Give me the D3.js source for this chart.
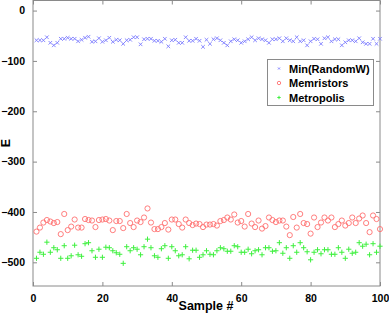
<!DOCTYPE html>
<html>
<head>
<meta charset="utf-8">
<script src="https://cdn.jsdelivr.net/npm/d3@7"></script>
<style>
  body { margin: 0; background: #fff; }
  svg { display: block; font-family: "Liberation Sans", Arial, sans-serif; }
</style>
</head>
<body>
<div id="chart"></div>
<script>
// Values, sample 1..100.
var minRandomW = [-59, -59, -59, -53, -64, -69, -64, -56, -56, -54,
    -56, -56, -61, -58, -54, -52, -62, -61, -55, -62,
    -59, -54, -62, -58, -59, -66, -59, -58, -53, -53,
    -67, -57, -56, -56, -60, -60, -62, -56, -71, -59,
    -58, -64, -64, -53, -60, -60, -56, -60, -72, -58,
    -66, -57, -55, -59, -64, -69, -61, -57, -59, -64,
    -61, -57, -53, -59, -55, -57, -59, -64, -57, -57,
    -55, -61, -55, -59, -61, -53, -61, -59, -69, -61,
    -56, -57, -66, -55, -53, -61, -57, -57, -69, -63,
    -59, -59, -61, -55, -63, -66, -66, -56, -66, -56];

var memristors = [-439, -431, -421, -416, -419, -422, -420, -444, -404, -436,
    -429, -415, -431, -431, -414, -416, -417, -430, -416, -415,
    -414, -417, -436, -418, -418, -432, -404, -422, -430, -417,
    -420, -411, -393, -421, -434, -434, -430, -422, -435, -415,
    -415, -424, -431, -415, -422, -426, -423, -424, -430, -425,
    -425, -424, -427, -418, -416, -411, -415, -405, -421, -418,
    -429, -404, -423, -430, -417, -433, -428, -411, -416, -420,
    -417, -417, -429, -446, -410, -431, -404, -422, -424, -443,
    -411, -430, -421, -411, -417, -411, -430, -424, -417, -427,
    -422, -411, -422, -413, -407, -422, -440, -407, -414, -434];

var metropolis = [-492, -480, -484, -460, -480, -471, -475, -492, -467, -492,
    -487, -466, -485, -488, -463, -461, -477, -490, -474, -490,
    -470, -471, -477, -481, -484, -502, -469, -477, -471, -474,
    -485, -469, -454, -471, -487, -490, -473, -467, -492, -469,
    -477, -487, -485, -469, -493, -476, -476, -490, -485, -477,
    -484, -485, -477, -471, -473, -478, -478, -467, -469, -480,
    -480, -474, -483, -477, -475, -485, -471, -471, -478, -477,
    -461, -482, -471, -492, -467, -480, -461, -471, -479, -495,
    -480, -475, -483, -475, -475, -484, -484, -471, -480, -492,
    -474, -482, -480, -461, -468, -464, -485, -463, -480, -468];

var seriesNames = ["Min(RandomW)", "Memristors", "Metropolis"];
var xTicks = [0, 20, 40, 60, 80, 100];
var yTicks = [0, -100, -200, -300, -400, -500];

var width = 389, height = 315;
var pLeft = 33, pRight = 380, pTop = 0.5, pBottom = 286;

var svg = d3.select("#chart").append("svg")
    .attr("width", width)
    .attr("height", height);

var x = d3.scaleLinear().domain([0, 100]).range([pLeft, pRight]);
var y = d3.scaleLinear().domain([-550, 20]).range([pBottom + 1.5, pTop]);

var axisColor = "#8a8a8a";

// box
svg.append("rect")
    .attr("x", pLeft).attr("y", pTop)
    .attr("width", pRight - pLeft).attr("height", pBottom - pTop)
    .attr("fill", "none").attr("stroke", axisColor);

// axes with inward ticks
function styleAxis(g) {
    g.select(".domain").remove();
    g.selectAll(".tick line").attr("stroke", axisColor);
    g.selectAll(".tick text")
        .attr("fill", "#000")
        .attr("font-weight", "bold")
        .attr("font-size", "10.5px")
        .attr("font-family", "Liberation Sans, Arial, sans-serif");
}

svg.append("g")
    .attr("transform", "translate(0," + pBottom + ")")
    .call(d3.axisBottom(x).tickValues(xTicks).tickSizeInner(-4).tickPadding(9))
    .call(styleAxis);
svg.append("g")
    .attr("transform", "translate(0," + pTop + ")")
    .call(d3.axisTop(x).tickValues(xTicks).tickSizeInner(-4).tickFormat(""))
    .call(styleAxis);
svg.append("g")
    .attr("transform", "translate(" + pLeft + ",0)")
    .call(d3.axisLeft(y).tickValues(yTicks).tickSizeInner(-4).tickPadding(8)
        .tickFormat(function(d) { return d < 0 ? "\u2212" + (-d) : d; }))
    .call(styleAxis);
svg.append("g")
    .attr("transform", "translate(" + pRight + ",0)")
    .call(d3.axisRight(y).tickValues(yTicks).tickSizeInner(-4).tickFormat(""))
    .call(styleAxis);

// markers
function markX(g, px, py, s) {
    g.append("path")
        .attr("d", "M" + (px - s) + "," + (py - s) + "L" + (px + s) + "," + (py + s) +
            "M" + (px - s) + "," + (py + s) + "L" + (px + s) + "," + (py - s))
        .attr("stroke", "#7b7bff").attr("stroke-width", 0.9).attr("fill", "none");
}
function markPlus(g, px, py, s) {
    g.append("path")
        .attr("d", "M" + (px - s) + "," + py + "L" + (px + s) + "," + py +
            "M" + px + "," + (py - s) + "L" + px + "," + (py + s))
        .attr("stroke", "#3ef03e").attr("stroke-width", 1).attr("fill", "none");
}

var gBlue = svg.append("g");
minRandomW.forEach(function(v, i) { markX(gBlue, x(i + 1), y(v), 1.8); });

svg.append("g").selectAll("circle")
    .data(memristors)
    .enter()
    .append("circle")
    .attr("cx", function(d, i) { return x(i + 1); })
    .attr("cy", function(d) { return y(d); })
    .attr("r", 2.6)
    .attr("fill", "none")
    .attr("stroke", "#ff7070")
    .attr("stroke-width", 0.9);

var gGreen = svg.append("g");
metropolis.forEach(function(v, i) { markPlus(gGreen, x(i + 1), y(v), 2.6); });

// legend
var lg = svg.append("g");
lg.append("rect")
    .attr("x", 267.5).attr("y", 59.5)
    .attr("width", 106).attr("height", 46)
    .attr("fill", "#fff").attr("stroke", axisColor);
var rows = [68.5, 83, 97.5];
markX(lg, 279, rows[0], 1);
lg.append("circle").attr("cx", 279).attr("cy", rows[1]).attr("r", 1.7)
    .attr("fill", "none").attr("stroke", "#ff7070").attr("stroke-width", 0.9);
markPlus(lg, 279, rows[2], 1.7);
lg.selectAll("text")
    .data(seriesNames)
    .enter()
    .append("text")
    .attr("x", 289)
    .attr("y", function(d, i) { return rows[i] + 4; })
    .attr("font-size", "11px")
    .attr("font-weight", "bold")
    .text(function(d) { return d; });

// axis titles
svg.append("text")
    .attr("x", 206).attr("y", 310)
    .attr("text-anchor", "middle")
    .attr("font-size", "12.5px").attr("font-weight", "bold")
    .text("Sample #");
svg.append("text")
    .attr("transform", "translate(10,143) rotate(-90)")
    .attr("text-anchor", "middle")
    .attr("font-size", "12.5px").attr("font-weight", "bold")
    .text("E");
</script>
</body>
</html>
